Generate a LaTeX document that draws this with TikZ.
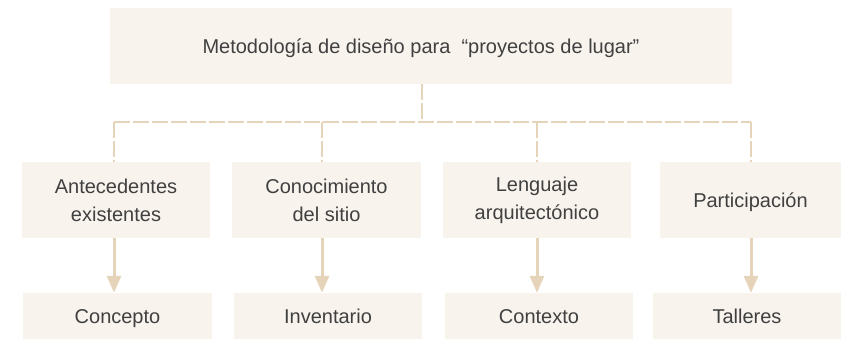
\documentclass[tikz,border=0pt]{standalone}
\usepackage{fontspec}
\setmainfont{Liberation Sans}
\usetikzlibrary{arrows.meta}
\definecolor{boxfill}{HTML}{F8F3ED}
\definecolor{linec}{HTML}{E6D4BA}
\definecolor{txt}{HTML}{404040}
\begin{document}
\begin{tikzpicture}[x=1pt,y=-1pt,
  box/.style={rectangle,fill=boxfill,draw=none,inner sep=0pt,align=center,text=txt,
    font=\fontsize{20}{28}\selectfont},
  oneline/.style={box,text height=14.4pt,text depth=0pt},
  dashline/.style={draw=linec,line width=2.8pt,dash pattern=on 16pt off 3pt},
  arr/.style={draw=linec,line width=3pt,-{Triangle[width=14pt,length=17pt]}}]
\useasboundingbox (0,0) rectangle (841,339);
\node[oneline,minimum width=622pt,minimum height=76pt] (top) at (421,46) {Metodología de diseño para \ “proyectos de lugar”};
\node[box,minimum width=188pt,minimum height=76pt] (b1) at (116,200) {Antecedentes\\existentes};
\node[box,minimum width=189pt,minimum height=76pt] (b2) at (326.5,200) {Conocimiento\\del sitio};
\node[box,minimum width=188pt,minimum height=76pt] (b3) at (537,200) {Lenguaje\\arquitectónico};
\node[oneline,minimum width=181pt,minimum height=76pt] (b4) at (750.5,200) {Participación};
\node[oneline,minimum width=189pt,minimum height=46pt] (c1) at (117.5,316) {Concepto};
\node[oneline,minimum width=188pt,minimum height=46pt] (c2) at (328,316) {Inventario};
\node[oneline,minimum width=188pt,minimum height=46pt] (c3) at (539,316) {Contexto};
\node[oneline,minimum width=188pt,minimum height=46pt] (c4) at (747,316) {Talleres};
\coordinate (j) at (422,122);
\coordinate (h1) at (114,122);
\coordinate (h2) at (322,122);
\coordinate (h3) at (537,122);
\coordinate (h4) at (751,122);
\draw[dashline] (j |- top.south) -- (j);
\draw[dashline] (h1) -- (h4);
\foreach \i in {1,2,3,4}{
  \draw[dashline] (h\i) -- (h\i |- b\i.north);
  \draw[arr] (h\i |- b\i.south) -- (h\i |- c\i.north);
}
\end{tikzpicture}
\end{document}
